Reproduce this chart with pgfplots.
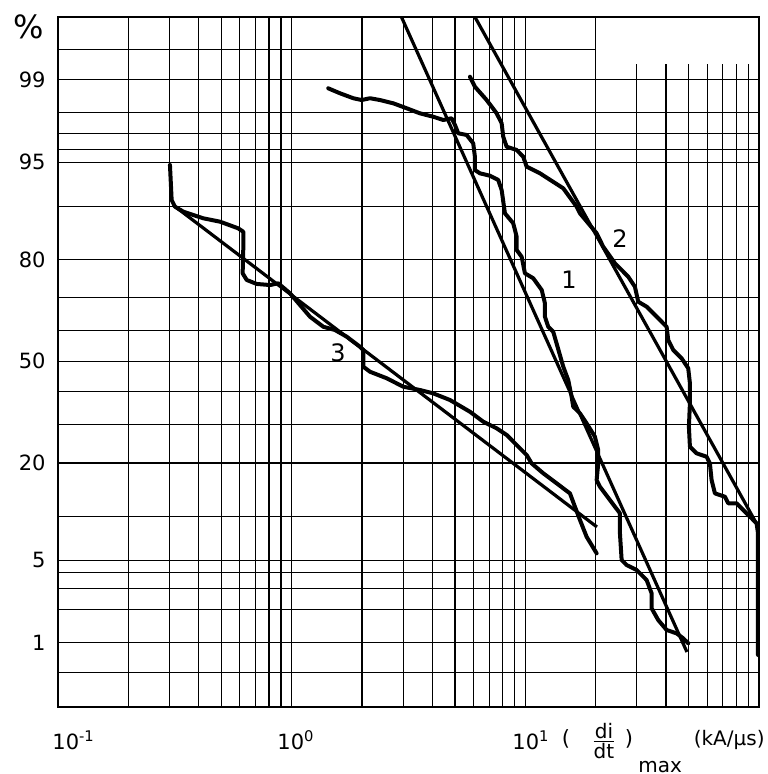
\documentclass[border=0pt]{standalone}
\usepackage{fontspec}
\setmainfont{DejaVu Sans}
\usepackage{pgfplots}
\pgfplotsset{compat=1.18}
\newcommand{\px}[2]{({(#1-58)*0.5pt},{(707-#2)*0.5pt})}
\newcommand{\lbl}{\fontsize{10.5}{12}\selectfont}

% x in kA/us, y as probit (standard normal quantile of the cumulative %)
\pgfplotstableread{
x z
0.3014 1.623
0.3065 1.333
0.3166 1.278
0.3438 1.237
0.3793 1.209
0.4184 1.182
0.4934 1.154
0.5906 1.099
0.6206 1.071
0.6206 0.920
0.6169 0.727
0.6420 0.672
0.7083 0.639
0.8074 0.630
0.8763 0.644
0.9833 0.562
1.085 0.465
1.198 0.368
1.365 0.285
1.532 0.258
1.719 0.203
1.960 0.120
2.025 0.093
2.025 -0.045
2.163 -0.087
2.550 -0.141
3.003 -0.211
3.540 -0.238
4.035 -0.266
4.758 -0.321
5.793 -0.418
6.603 -0.500
7.538 -0.555
8.318 -0.610
9.180 -0.693
10.13 -0.776
10.64 -0.845
11.93 -0.927
13.61 -1.010
15.52 -1.093
16.30 -1.203
17.13 -1.313
18.29 -1.452
20.19 -1.589
}\curvethree

\pgfplotstableread{
x z
1.434 2.257
1.609 2.216
1.835 2.175
1.993 2.160
2.163 2.175
2.387 2.160
2.721 2.133
3.105 2.092
3.540 2.050
4.035 2.022
4.454 1.995
4.838 2.009
4.998 1.954
5.163 1.885
5.609 1.871
5.985 1.802
6.085 1.691
6.085 1.581
6.392 1.554
7.056 1.534
7.656 1.499
7.918 1.416
8.179 1.223
8.875 1.141
9.180 1.030
9.180 0.920
9.643 0.864
9.961 0.727
10.81 0.686
11.75 0.589
12.13 0.479
12.13 0.368
12.53 0.285
13.16 0.244
14.53 -0.045
15.26 -0.156
15.78 -0.294
16.03 -0.376
17.13 -0.431
18.29 -0.514
19.85 -0.624
20.51 -0.734
20.51 -0.845
20.19 -0.983
20.86 -1.038
23.01 -1.148
25.40 -1.258
25.40 -1.423
25.83 -1.644
27.13 -1.686
29.94 -1.727
33.04 -1.810
34.71 -1.920
34.71 -2.044
37.05 -2.141
40.24 -2.223
44.39 -2.251
47.38 -2.292
49.79 -2.333
}\curveone

\pgfplotstableread{
x z
5.793 2.353
6.085 2.270
6.831 2.160
7.538 2.050
7.918 1.968
8.043 1.857
8.318 1.774
9.180 1.747
9.795 1.691
10.13 1.609
11.55 1.554
14.53 1.430
16.58 1.278
17.13 1.223
20.19 1.058
21.54 0.947
24.18 0.810
27.56 0.699
29.44 0.616
30.42 0.492
33.04 0.451
37.67 0.341
40.24 0.285
40.88 0.175
42.95 0.093
46.65 0.024
49.79 -0.059
50.62 -0.183
50.62 -0.348
50.12 -0.542
50.62 -0.707
54.08 -0.762
59.67 -0.790
61.64 -0.845
62.69 -0.983
64.76 -1.093
71.46 -1.121
73.82 -1.175
80.21 -1.175
85.59 -1.231
92.96 -1.299
97.65 -1.341
99.0 -1.423
99.0 -2.430
}\curvetwo

\begin{document}
\begin{tikzpicture}
\path[use as bounding box] \px{0}{0} rectangle \px{767}{774};
\begin{axis}[
  at={(0,0)}, anchor=south west,
  scale only axis, width=350.5pt, height=345pt,
  xmode=log, xmin=0.1, xmax=100,
  ymin=-2.86, ymax=2.847,
  xtick={0.1,1,10,100}, xticklabels={,,,},
  minor xtick={0.2,0.3,0.4,0.5,0.6,0.7,0.8,0.9,2,3,4,5,6,7,8,9,20,30,40,50,60,70,80,90},
  ytick={-2.3263,-1.6449,-0.8416,0,0.8416,1.6449,2.3263},
  yticklabels={1,5,20,50,80,95,99},
  minor ytick={-2.5758,-2.0537,-1.8808,-1.7507,-1.2816,-0.5244,-0.2533,0.2533,0.5244,1.2816,1.7507,1.8808,2.0537,2.5758},
  grid=both,
  major grid style={black, line width=0.55pt},
  minor grid style={black, line width=0.55pt},
  major tick length=0pt, minor tick length=0pt,
  axis line style={black, line width=1pt},
  yticklabel style={font=\lbl, inner sep=0pt, xshift=-6pt},
  clip=true,
]
% blank patch of the printed paper, top right
\fill[white] ([xshift=0.4pt]axis cs:20,2.458) rectangle ([xshift=-0.6pt,yshift=-0.6pt]axis cs:100,2.847);

% fitted straight lines
\addplot[black, line width=1.6pt, mark=none] coordinates {(0.3105,1.292) (20.25,-1.371)};
\addplot[black, line width=1.6pt, mark=none] coordinates {(2.950,2.847) (49.15,-2.405)};
\addplot[black, line width=1.6pt, mark=none] coordinates {(6.085,2.847) (99.4,-1.371)};

% measured distributions
\addplot[black, line width=2pt, line join=round, line cap=round, mark=none] table[x=x,y=z] {\curvethree};
\addplot[black, line width=2pt, line join=round, line cap=round, mark=none] table[x=x,y=z] {\curveone};
\addplot[black, line width=2pt, line join=round, line cap=round, mark=none] table[x=x,y=z] {\curvetwo};

\node[font=\fontsize{12}{14}\selectfont] at (axis cs:15.37,0.672) {1};
\node[font=\fontsize{12}{14}\selectfont] at (axis cs:25.40,1.011) {2};
\node[font=\fontsize{12}{14}\selectfont] at (axis cs:1.578,0.068) {3};
\end{axis}

\node[font=\fontsize{16}{18}\selectfont] at \px{29}{27} {\%};
\node[font=\lbl, anchor=base west, inner sep=0pt] at \px{52}{749} {10\textsuperscript{-1}};
\node[font=\lbl, anchor=base west, inner sep=0pt] at \px{277}{749} {10\textsuperscript{0}};
\node[font=\lbl, anchor=base west, inner sep=0pt] at \px{512}{749} {10\textsuperscript{1}};
\node[font=\lbl, inner sep=0pt] at \px{566}{739} {(};
\node[font=\fontsize{10}{11}\selectfont, inner sep=0pt] at \px{604}{741} {$\frac{\mbox{di}}{\mbox{dt}}$};
\node[font=\lbl, inner sep=0pt] at \px{629}{739} {)};
\node[font=\fontsize{10}{11}\selectfont, anchor=base west, inner sep=0pt] at \px{638}{772} {max};
\node[font=\fontsize{10}{11}\selectfont, anchor=base east, inner sep=0pt] at \px{765}{746} {(kA/µs)};
\end{tikzpicture}
\end{document}
